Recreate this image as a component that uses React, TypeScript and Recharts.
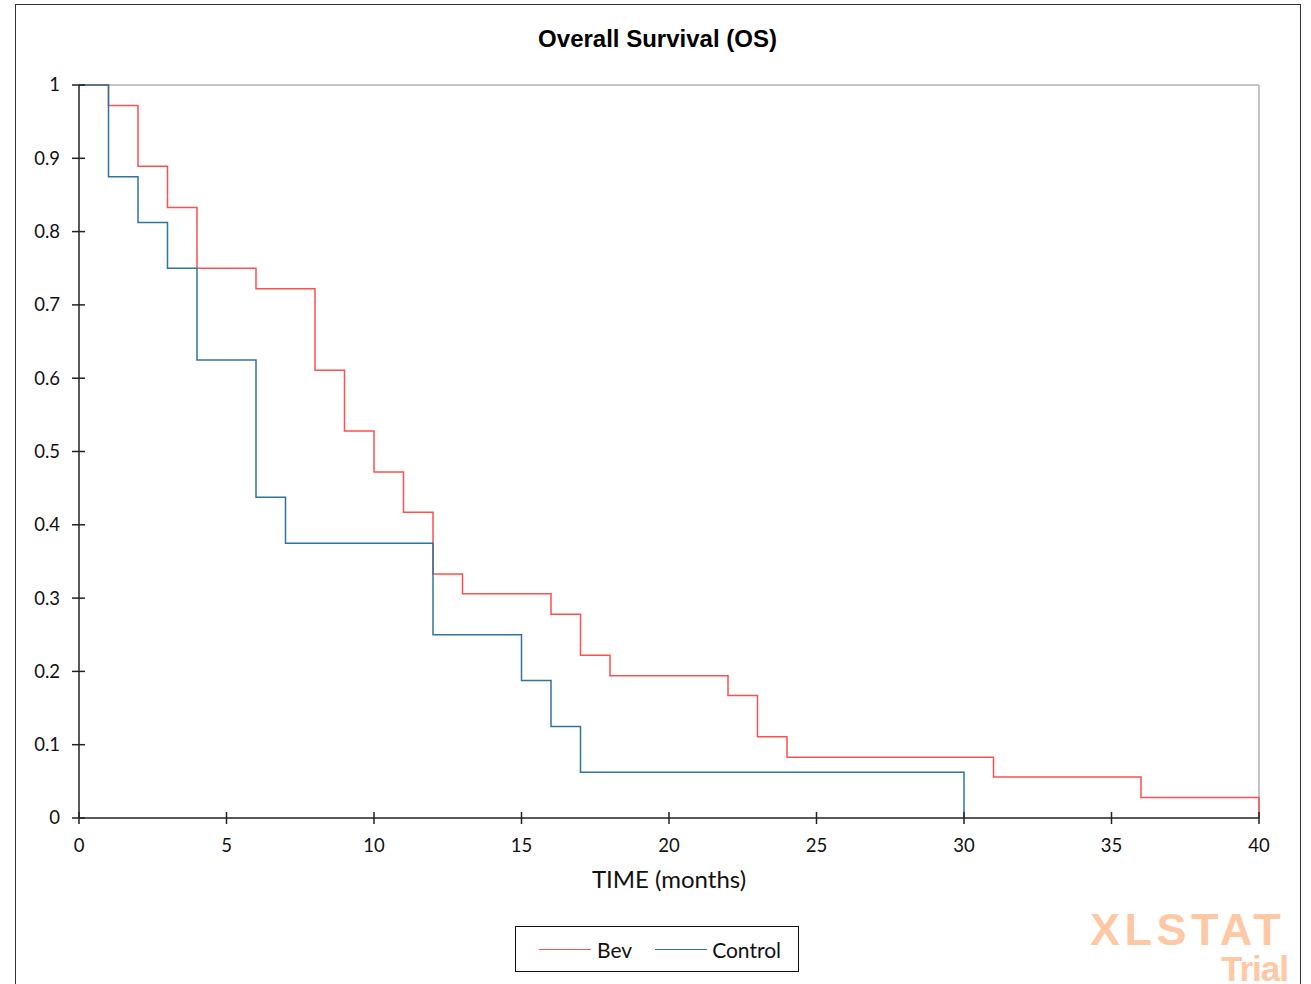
import React from "react";
import { LineChart, Line, XAxis, YAxis, ReferenceLine } from "recharts";

// Kaplan-Meier steps
const bevTime = [0, 1, 2, 3, 4, 6, 8, 9, 10, 11, 12, 13, 16, 17, 18, 22, 23, 24, 31, 36, 40];
const bevSurv = [1, 0.972, 0.889, 0.833, 0.75, 0.722, 0.611, 0.528, 0.472, 0.417, 0.333, 0.306, 0.278, 0.222, 0.194, 0.167, 0.111, 0.083, 0.056, 0.028, 0];
const ctrlTime = [0, 1, 2, 3, 4, 6, 7, 12, 15, 16, 17, 30];
const ctrlSurv = [1, 0.875, 0.8125, 0.75, 0.625, 0.4375, 0.375, 0.25, 0.1875, 0.125, 0.0625, 0];

const xTicks = [0, 5, 10, 15, 20, 25, 30, 35, 40];
const yTicks = [0, 0.1, 0.2, 0.3, 0.4, 0.5, 0.6, 0.7, 0.8, 0.9, 1];

const BEV = "#ff4f4f";
const CTRL = "#2f75a0";
const TICK_FONT = "Lato, 'Open Sans', sans-serif";
const ARIAL = "'Liberation Sans', Arial, sans-serif";
const MARK = "#fec8a4";

const bev = bevTime.map((t, i) => ({ t, s: bevSurv[i] }));
const ctrl = ctrlTime.map((t, i) => ({ t, s: ctrlSurv[i] }));

const YTick = (p: any) => (
  <g>
    <line x1={p.x - 7} x2={p.x + 6} y1={p.y} y2={p.y} stroke="#222" strokeWidth={1.5} />
    <text x={p.x - 19} y={p.y} dy="0.35em" textAnchor="end" fontSize={18.5} fill="#111" fontFamily={TICK_FONT}>
      {String(p.payload.value)}
    </text>
  </g>
);

const XTick = (p: any) => (
  <g>
    <line x1={p.x} x2={p.x} y1={p.y - 6} y2={p.y + 6} stroke="#222" strokeWidth={1.5} />
    <text x={p.x} y={p.y + 34} textAnchor="middle" fontSize={18.5} fill="#111" fontFamily={TICK_FONT}>
      {p.payload.value}
    </text>
  </g>
);

const LegendBox = () => (
  <div
    style={{
      position: "absolute", left: 515, top: 926, width: 282, height: 44,
      border: "1px solid #111", background: "#fff", display: "flex", alignItems: "center",
      fontFamily: TICK_FONT, fontSize: 21, color: "#111",
    }}
  >
    <span style={{ marginLeft: 23, width: 52, borderTop: `1.5px solid ${BEV}` }} />
    <span style={{ marginLeft: 6 }}>Bev</span>
    <span style={{ marginLeft: 23, width: 52, borderTop: `1.5px solid ${CTRL}` }} />
    <span style={{ marginLeft: 5 }}>Control</span>
  </div>
);

export default function App() {
  return (
    <div style={{ position: "absolute", left: 0, top: 0, width: 1311, height: 984, overflow: "hidden", background: "#fff" }}>
      <div style={{ position: "absolute", left: 15, top: 4, width: 1284, height: 1000, border: "1.5px solid #333" }} />
      <div
        style={{
          position: "absolute", left: 0, top: 25, width: 1311, textAlign: "center",
          fontFamily: ARIAL, fontWeight: "bold", fontSize: 24, color: "#000",
        }}
      >
        <span style={{ marginLeft: 4 }}>Overall Survival (OS)</span>
      </div>
      <LineChart
        width={1311}
        height={984}
        margin={{ top: 85, right: 52, left: 19, bottom: 136 }}
        style={{ position: "absolute", left: 0, top: 0 }}
      >
        <XAxis
          type="number" dataKey="t" domain={[0, 40]} ticks={xTicks} allowDuplicatedCategory={false}
          tickSize={0} tickMargin={0} height={30} stroke="#222" strokeWidth={1.5} tick={<XTick />} interval={0}
        />
        <YAxis
          type="number" dataKey="s" domain={[0, 1]} ticks={yTicks} width={60}
          tickSize={0} tickMargin={0} stroke="#222" strokeWidth={1.5} tick={<YTick />} interval={0}
        />
        <ReferenceLine y={1} stroke="#c4c4c4" strokeWidth={2} />
        <ReferenceLine x={40} stroke="#c4c4c4" strokeWidth={2} />
        <Line data={bev} dataKey="s" name="Bev" type="stepAfter" stroke={BEV} strokeWidth={1.5} dot={false} isAnimationActive={false} />
        <Line data={ctrl} dataKey="s" name="Control" type="stepAfter" stroke={CTRL} strokeWidth={1.5} dot={false} isAnimationActive={false} />
      </LineChart>
      <div
        style={{
          position: "absolute", left: 79, top: 864, width: 1180, textAlign: "center",
          fontFamily: TICK_FONT, fontSize: 24, color: "#111",
        }}
      >
        TIME (months)
      </div>
      <LegendBox />
      <div
        style={{
          position: "absolute", left: 1090, top: 907, color: MARK, whiteSpace: "nowrap",
          fontFamily: ARIAL, fontWeight: "bold", fontSize: 45, lineHeight: 1, letterSpacing: 4.5,
        }}
      >
        XLSTAT
      </div>
      <div
        style={{
          position: "absolute", right: 23, top: 951, color: MARK, whiteSpace: "nowrap",
          fontFamily: ARIAL, fontWeight: "bold", fontSize: 35, lineHeight: 1, letterSpacing: -1,
        }}
      >
        Trial
      </div>
    </div>
  );
}
